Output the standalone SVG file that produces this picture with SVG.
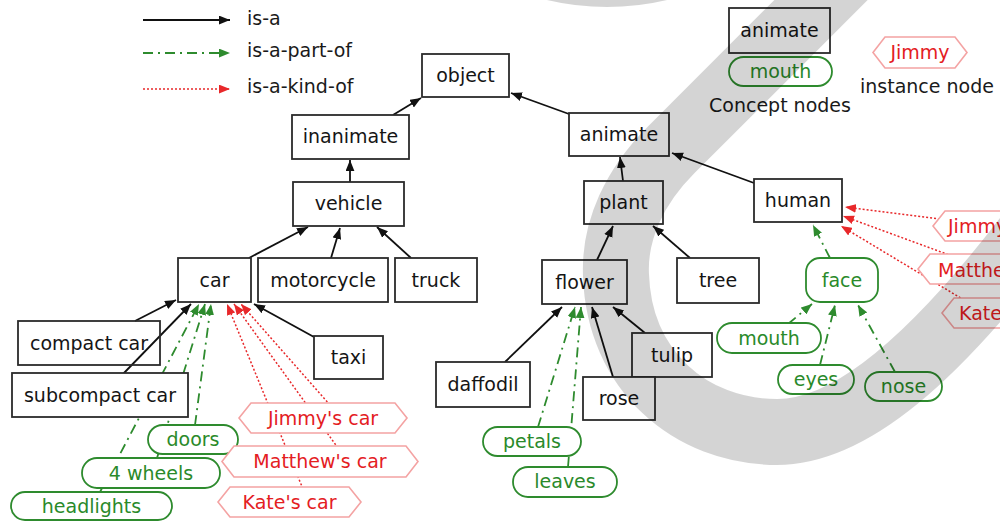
<svg xmlns="http://www.w3.org/2000/svg" width="1000" height="521" viewBox="0 0 1000 521">
<defs>
<style>
text{font-family:"DejaVu Sans","Liberation Sans",sans-serif;font-size:19px;text-anchor:middle;}
.lbl{text-anchor:start;fill:#1a1a1a;}
.c rect{fill:#fff;stroke:#2b2b2b;stroke-width:1.8;}
.c text{fill:#151515;}
.p rect{fill:#fff;stroke:#2e8b2e;stroke-width:1.8;}
.p text{fill:#2a8a2a;}
.i polygon{fill:#fff;stroke:#f4a3a3;stroke-width:1.6;}
.i text{fill:#e4201f;}
.isa{stroke:#111;stroke-width:1.8;fill:none;marker-end:url(#ab);}
.part{stroke:#2e8b2e;stroke-width:1.8;fill:none;stroke-dasharray:10,5,2,5;marker-end:url(#ag);}
.kind{stroke:#e8282a;stroke-width:1.5;fill:none;stroke-dasharray:2,2;marker-end:url(#ar);}
.band{fill:none;stroke:#000;stroke-opacity:0.17;}
</style>
<marker id="ab" viewBox="0 0 10 8" refX="10" refY="4" markerWidth="11" markerHeight="9" markerUnits="userSpaceOnUse" orient="auto"><path d="M0,0 L10,4 L0,8 z" fill="#111"/></marker>
<marker id="ag" viewBox="0 0 10 8" refX="10" refY="4" markerWidth="11" markerHeight="9" markerUnits="userSpaceOnUse" orient="auto"><path d="M0,0 L10,4 L0,8 z" fill="#2e8b2e"/></marker>
<marker id="ar" viewBox="0 0 10 8" refX="10" refY="4" markerWidth="11" markerHeight="9" markerUnits="userSpaceOnUse" orient="auto"><path d="M0,0 L10,4 L0,8 z" fill="#e8282a"/></marker>
</defs>
<rect x="0" y="0" width="1000" height="521" fill="#fff"/>

<g id="legend">
<path class="isa" d="M143,20 L230,20"/>
<path class="part" d="M143,53 L230,53"/>
<path class="kind" d="M143,89 L230,89"/>
<text class="lbl" x="247" y="25">is-a</text>
<text class="lbl" x="247" y="57">is-a-part-of</text>
<text class="lbl" x="247" y="93">is-a-kind-of</text>
<g id="legend-concept" class="c"><rect x="729" y="8" width="101" height="45"/><text x="779.5" y="37">animate</text></g>
<g id="legend-part" class="p"><rect x="729" y="57" width="103" height="29" rx="14.5"/><text x="780.5" y="78">mouth</text></g>
<text class="lbl" x="709" y="112">Concept nodes</text>
<g id="legend-instance" class="i"><polygon points="873,52.5 885,37 955,37 967,52.5 955,68 885,68"/><text x="920" y="59">Jimmy</text></g>
<text class="lbl" x="860" y="93">instance node</text>
</g>

<g id="connectors">
<path class="isa" d="M393,115 L421,98"/>
<path class="isa" d="M569,114 L511,93"/>
<path class="isa" d="M350,182 L350,160"/>
<path class="isa" d="M623,181 L620,157"/>
<path class="isa" d="M754,183 L672,153"/>
<path class="isa" d="M249,258 L308,227"/>
<path class="isa" d="M331,258 L340,228"/>
<path class="isa" d="M411,258 L377,227"/>
<path class="isa" d="M597,260 L613,226"/>
<path class="isa" d="M690,258 L653,226"/>
<path class="isa" d="M135,321 L176,300"/>
<path class="isa" d="M123,374 L191,304"/>
<path class="isa" d="M314,337 L254,304"/>
<path class="isa" d="M505,362 L562,307"/>
<path class="isa" d="M613,377 L592,307"/>
<path class="isa" d="M645,333 L613,307"/>
<path class="part" d="M100,492 L199,304"/>
<path class="part" d="M157,458 L205,304"/>
<path class="part" d="M195,425 L211,304"/>
<path class="part" d="M538,427 L575,307"/>
<path class="part" d="M568,467 L581,307"/>
<path class="part" d="M830,258 L813,225"/>
<path class="part" d="M788,324 L812,304"/>
<path class="part" d="M820,365 L835,305"/>
<path class="part" d="M895,372 L858,305"/>
<path class="kind" d="M330,405 L241,304"/>
<path class="kind" d="M338,448 L234,304"/>
<path class="kind" d="M303,489 L227,304"/>
<path class="kind" d="M940,219 L845,207"/>
<path class="kind" d="M952,256 L843,216"/>
<path class="kind" d="M964,300 L841,226"/>
</g>

<g id="object" class="c"><rect x="422" y="54" width="87" height="43"/><text x="465.5" y="82">object</text></g>
<g id="inanimate" class="c"><rect x="292" y="115" width="117" height="44"/><text x="350.5" y="143">inanimate</text></g>
<g id="vehicle" class="c"><rect x="293" y="182" width="111" height="44"/><text x="348.5" y="210">vehicle</text></g>
<g id="animate" class="c"><rect x="569" y="113" width="100" height="43"/><text x="619" y="141">animate</text></g>
<g id="plant" class="c"><rect x="584" y="181" width="79" height="43"/><text x="623.5" y="209">plant</text></g>
<g id="human" class="c"><rect x="754" y="179" width="88" height="43"/><text x="798" y="207">human</text></g>
<g id="car" class="c"><rect x="178" y="258" width="73" height="44"/><text x="214.5" y="287">car</text></g>
<g id="motorcycle" class="c"><rect x="258" y="258" width="130" height="44"/><text x="323" y="287">motorcycle</text></g>
<g id="truck" class="c"><rect x="395" y="258" width="82" height="44"/><text x="436" y="287">truck</text></g>
<g id="compact-car" class="c"><rect x="18" y="321" width="142" height="44" style="fill:none"/><text x="89" y="350">compact car</text></g>
<g id="subcompact-car" class="c"><rect x="12" y="373" width="176" height="44"/><text x="100" y="402">subcompact car</text></g>
<g id="taxi" class="c"><rect x="314" y="336" width="69" height="43"/><text x="348.5" y="364">taxi</text></g>
<g id="flower" class="c"><rect x="542" y="260" width="85" height="44"/><text x="584.5" y="289">flower</text></g>
<g id="tree" class="c"><rect x="677" y="258" width="82" height="45"/><text x="718" y="287">tree</text></g>
<g id="daffodil" class="c"><rect x="436" y="362" width="94" height="45"/><text x="483" y="391">daffodil</text></g>
<g id="tulip" class="c"><rect x="632" y="333" width="80" height="44"/><text x="672" y="362">tulip</text></g>
<g id="rose" class="c"><rect x="583" y="377" width="72" height="43"/><text x="619" y="405">rose</text></g>

<g id="doors" class="p"><rect x="148" y="425" width="90" height="29" rx="14.5"/><text x="193" y="446">doors</text></g>
<g id="four-wheels" class="p"><rect x="82" y="458" width="138" height="30" rx="15"/><text x="151" y="480">4 wheels</text></g>
<g id="headlights" class="p"><rect x="11" y="492" width="161" height="28" rx="14"/><text x="91.5" y="513">headlights</text></g>
<g id="petals" class="p"><rect x="483" y="427" width="98" height="29" rx="14.5"/><text x="532" y="448">petals</text></g>
<g id="leaves" class="p"><rect x="513" y="467" width="104" height="30" rx="15"/><text x="565" y="488">leaves</text></g>
<g id="face" class="p"><rect x="806" y="258" width="72" height="44" rx="14"/><text x="842" y="287">face</text></g>
<g id="mouth" class="p"><rect x="717" y="323" width="104" height="30" rx="15"/><text x="769" y="345">mouth</text></g>
<g id="eyes" class="p"><rect x="778" y="365" width="76" height="29" rx="14.5"/><text x="816" y="386">eyes</text></g>
<g id="nose" class="p"><rect x="865" y="372" width="77" height="29" rx="14.5"/><text x="903.5" y="393">nose</text></g>

<g id="jimmys-car" class="i"><polygon points="239,418 251,403 395,403 407,418 395,433 251,433"/><text x="323" y="425">Jimmy's car</text></g>
<g id="matthews-car" class="i"><polygon points="222,461.5 234,446 406,446 418,461.5 406,477 234,477"/><text x="320" y="468">Matthew's car</text></g>
<g id="kates-car" class="i"><polygon points="218,502 230,487 349,487 361,502 349,517 230,517"/><text x="289.5" y="509">Kate's car</text></g>
<g id="jimmy" class="i"><polygon points="933,226 945,211 1040,211 1052,226 1040,241 945,241"/><text x="948" y="233" style="text-anchor:start">Jimmy</text></g>
<g id="matthew" class="i"><polygon points="918,269 930,254 1045,254 1057,269 1045,284 930,284"/><text x="938" y="277" style="text-anchor:start">Matthew</text></g>
<g id="kate" class="i"><polygon points="942,313 954,298 1040,298 1052,313 1040,328 954,328"/><text x="959" y="320" style="text-anchor:start">Kate</text></g>

<g id="overlay">
<path class="band" stroke-width="66" d="M851,-30 L671,150 C635,186 614,230 616,275 C619,370 690,432 777,432 C850,432 935,360 1040,220"/>
<circle class="band" stroke-width="62" cx="607" cy="-253" r="229"/>
</g>
</svg>
